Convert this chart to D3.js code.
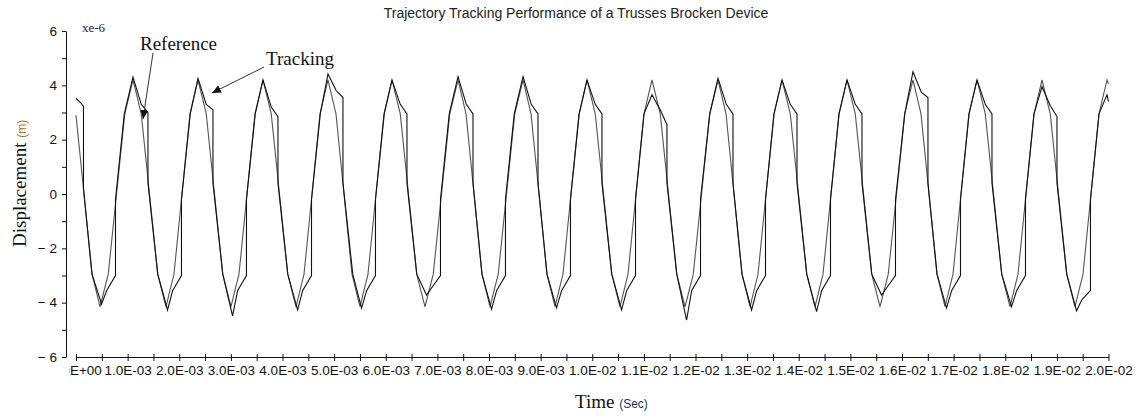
<!DOCTYPE html>
<html>
<head>
<meta charset="utf-8">
<script src="https://cdn.jsdelivr.net/npm/d3@7"></script>
<style>
  html, body { margin: 0; padding: 0; background: #fff; }
  svg { display: block; }
</style>
</head>
<body>
<div id="chart"></div>
<script>
// time in ms, displacement in 1e-6 m
const referenceData = [
  [0, 2.9], [0.155, 0], [0.31, -2.95], [0.465, -4.15],
  [0.625, -2.95], [0.785, 0], [0.945, 2.95], [1.104, 4.2],
  [1.264, 2.95], [1.424, 0], [1.583, -2.95], [1.743, -4.15],
  [1.898, -2.95], [2.053, 0], [2.208, 2.95], [2.363, 4.2],
  [2.523, 2.95], [2.683, 0], [2.842, -2.95], [3.002, -4.15],
  [3.157, -2.95], [3.312, 0], [3.467, 2.95], [3.622, 4.2],
  [3.782, 2.95], [3.942, 0], [4.102, -2.95], [4.262, -4.15],
  [4.417, -2.95], [4.572, 0], [4.726, 2.95], [4.881, 4.2],
  [5.036, 2.95], [5.191, 0], [5.346, -2.95], [5.501, -4.15],
  [5.656, -2.95], [5.811, 0], [5.966, 2.95], [6.121, 4.2],
  [6.281, 2.95], [6.441, 0], [6.600, -2.95], [6.760, -4.15],
  [6.920, -2.95], [7.080, 0], [7.240, 2.95], [7.400, 4.2],
  [7.555, 2.95], [7.710, 0], [7.864, -2.95], [8.019, -4.15],
  [8.179, -2.95], [8.339, 0], [8.499, 2.95], [8.659, 4.2],
  [8.814, 2.95], [8.969, 0], [9.123, -2.95], [9.278, -4.15],
  [9.433, -2.95], [9.588, 0], [9.743, 2.95], [9.898, 4.2],
  [10.058, 2.95], [10.218, 0], [10.378, -2.95], [10.538, -4.15],
  [10.693, -2.95], [10.848, 0], [11.002, 2.95], [11.157, 4.2],
  [11.317, 2.95], [11.477, 0], [11.637, -2.95], [11.797, -4.15],
  [11.957, -2.95], [12.117, 0], [12.276, 2.95], [12.436, 4.2],
  [12.591, 2.95], [12.746, 0], [12.901, -2.95], [13.056, -4.15],
  [13.211, -2.95], [13.366, 0], [13.521, 2.95], [13.676, 4.2],
  [13.836, 2.95], [13.996, 0], [14.155, -2.95], [14.315, -4.15],
  [14.470, -2.95], [14.625, 0], [14.780, 2.95], [14.935, 4.2],
  [15.095, 2.95], [15.255, 0], [15.414, -2.95], [15.574, -4.15],
  [15.734, -2.95], [15.894, 0], [16.053, 2.95], [16.213, 4.2],
  [16.368, 2.95], [16.523, 0], [16.678, -2.95], [16.833, -4.15],
  [16.988, -2.95], [17.143, 0], [17.298, 2.95], [17.453, 4.2],
  [17.613, 2.95], [17.773, 0], [17.932, -2.95], [18.092, -4.15],
  [18.247, -2.95], [18.402, 0], [18.557, 2.95], [18.712, 4.2],
  [18.872, 2.95], [19.032, 0], [19.191, -2.95], [19.351, -4.15],
  [19.506, -2.95], [19.661, 0], [19.816, 2.95], [19.971, 4.2],
  [20.0, 4.05]
];

const trackingData = [
  [0, 3.52], [0.10, 3.34], [0.145, 3.22], [0.145, 0.2], [0.31, -2.95],
  [0.495, -4.05], [0.595, -3.55], [0.765, -3.0], [0.765, -0.2], [0.935, 2.95],
  [1.104, 4.3], [1.264, 3.3], [1.394, 3.0], [1.394, 0.4], [1.584, -2.95],
  [1.773, -4.27], [1.873, -3.55], [2.043, -3.0], [2.043, -0.2], [2.213, 2.95],
  [2.363, 4.26], [2.523, 3.3], [2.653, 3.1], [2.653, 0.4], [2.843, -2.95],
  [3.032, -4.49], [3.132, -3.55], [3.302, -3.0], [3.302, -0.2], [3.472, 2.95],
  [3.622, 4.2], [3.782, 3.2], [3.912, 2.85], [3.912, 0.4], [4.102, -2.95],
  [4.292, -4.27], [4.392, -3.55], [4.562, -3.0], [4.562, -0.2], [4.732, 2.95],
  [4.881, 4.42], [5.041, 3.8], [5.171, 3.55], [5.171, 0.4], [5.361, -2.95],
  [5.531, -4.2], [5.631, -3.55], [5.801, -3.0], [5.801, -0.2], [5.971, 2.95],
  [6.121, 4.2], [6.281, 3.3], [6.411, 2.95], [6.411, 0.4], [6.601, -2.95],
  [6.790, -3.72], [6.890, -3.45], [7.060, -3.0], [7.060, -0.2], [7.230, 2.95],
  [7.400, 4.32], [7.560, 3.3], [7.690, 2.95], [7.690, 0.4], [7.864, -2.95],
  [8.049, -4.24], [8.149, -3.55], [8.319, -3.0], [8.319, -0.2], [8.489, 2.95],
  [8.659, 4.32], [8.819, 3.3], [8.949, 2.95], [8.949, 0.4], [9.123, -2.95],
  [9.308, -4.19], [9.408, -3.55], [9.578, -3.0], [9.578, -0.2], [9.748, 2.95],
  [9.898, 4.2], [10.058, 3.3], [10.188, 2.95], [10.188, 0.4], [10.378, -2.95],
  [10.568, -4.27], [10.668, -3.55], [10.838, -3.0], [10.838, -0.2], [11.002, 2.95],
  [11.157, 3.65], [11.317, 3.1], [11.447, 2.55], [11.447, 0.4], [11.637, -2.95],
  [11.827, -4.64], [11.927, -3.55], [12.097, -3.0], [12.097, -0.2], [12.276, 2.95],
  [12.436, 4.26], [12.596, 3.3], [12.726, 2.95], [12.726, 0.4], [12.901, -2.95],
  [13.086, -4.27], [13.186, -3.55], [13.356, -3.0], [13.356, -0.2], [13.521, 2.95],
  [13.676, 4.2], [13.836, 3.3], [13.966, 2.95], [13.966, 0.4], [14.155, -2.95],
  [14.345, -4.33], [14.445, -3.55], [14.615, -3.0], [14.615, -0.2], [14.780, 2.95],
  [14.935, 4.2], [15.095, 3.3], [15.225, 2.95], [15.225, 0.4], [15.414, -2.95],
  [15.604, -3.72], [15.704, -3.45], [15.874, -3.0], [15.874, -0.2], [16.053, 2.95],
  [16.213, 4.5], [16.373, 3.75], [16.503, 3.55], [16.503, 0.4], [16.678, -2.95],
  [16.863, -4.2], [16.963, -3.55], [17.133, -3.0], [17.133, -0.2], [17.298, 2.95],
  [17.453, 4.2], [17.613, 3.3], [17.743, 2.95], [17.743, 0.4], [17.932, -2.95],
  [18.122, -4.15], [18.222, -3.55], [18.392, -3.0], [18.392, -0.2], [18.557, 2.95],
  [18.712, 3.95], [18.872, 3.25], [19.002, 2.85], [19.002, 0.4], [19.191, -2.95],
  [19.381, -4.3], [19.481, -3.9], [19.651, -3.55], [19.651, -0.2], [19.816, 2.95],
  [19.971, 3.65], [20.0, 3.4]
];

const xTicks = d3.range(0, 20.5, 0.5);      // ms, labelled on whole ms
const yTicks = d3.range(-6, 7, 1);          // labelled on even values

const width = 1143;
const height = 419;

const svg = d3.select('#chart')
  .append('svg')
  .attr('width', width)
  .attr('height', height);

const x = d3.scaleLinear().domain([0, 20]).range([76, 1108.5]);
const y = d3.scaleLinear().domain([-6, 6]).range([357, 31]);

// 1.0E-03 style labels, time given in ms
function fmtSec(ms) {
  const s = ms / 1000;
  if (s === 0) return '0.0E+00';
  const e = Math.floor(Math.log10(s) + 1e-9);
  const m = (s / Math.pow(10, e)).toFixed(1);
  const sign = e < 0 ? '-' : '+';
  return m + 'E' + sign + String(Math.abs(e)).padStart(2, '0');
}

// x axis (the left end of the first label is hidden behind the y axis)
svg.append('clipPath')
  .attr('id', 'xclip')
  .append('rect')
  .attr('x', 69.5).attr('y', -20).attr('width', 1100).attr('height', 60);

const xAxis = svg.append('g')
  .attr('transform', `translate(0,${y(-6)})`)
  .attr('clip-path', 'url(#xclip)')
  .call(d3.axisBottom(x)
    .tickValues(xTicks)
    .tickSize(4)
    .tickSizeOuter(0)
    .tickPadding(4)
    .tickFormat(d => Number.isInteger(d) ? fmtSec(d) : ''));

xAxis.selectAll('.tick line').attr('y1', -3).attr('y2', 4);
xAxis.selectAll('path, line').attr('stroke', '#111');
xAxis.selectAll('text')
  .attr('fill', '#111')
  .style('font-family', 'Arial, "Liberation Sans", sans-serif')
  .style('font-size', '13.5px');

// y axis
const yAxis = svg.append('g')
  .attr('transform', 'translate(66,0)')
  .call(d3.axisLeft(y)
    .tickValues(yTicks)
    .tickSize(4)
    .tickSizeOuter(0)
    .tickPadding(5)
    .tickFormat(d => d % 2 !== 0 ? '' : (d < 0 ? '\u2212 ' + (-d) : String(d))));

yAxis.selectAll('path, line').attr('stroke', '#111');
yAxis.selectAll('text')
  .attr('fill', '#111')
  .style('font-family', 'Arial, "Liberation Sans", sans-serif')
  .style('font-size', '13.5px');

// series
const line = d3.line()
  .x(d => x(d[0]))
  .y(d => y(d[1]));

svg.append('path')
  .datum(referenceData)
  .attr('fill', 'none')
  .attr('stroke', '#555')
  .attr('stroke-width', 1.1)
  .attr('d', line);

svg.append('path')
  .datum(trackingData)
  .attr('fill', 'none')
  .attr('stroke', '#111')
  .attr('stroke-width', 1.1)
  .attr('d', line);

// texts
svg.append('text')
  .attr('x', 576)
  .attr('y', 18)
  .attr('text-anchor', 'middle')
  .attr('fill', '#222')
  .style('font-family', 'Arial, "Liberation Sans", sans-serif')
  .style('font-size', '14px')
  .text('Trajectory Tracking Performance of a Trusses Brocken Device');

svg.append('text')
  .attr('x', 82)
  .attr('y', 32)
  .attr('fill', '#223')
  .style('font-family', '"Liberation Serif", "Times New Roman", serif')
  .style('font-size', '13px')
  .text('xe-6');

const yLabel = svg.append('text')
  .attr('transform', 'translate(26,247) rotate(-90)')
  .attr('fill', '#111');
yLabel.append('tspan')
  .style('font-family', '"Liberation Serif", "Times New Roman", serif')
  .style('font-size', '19px')
  .text('Displacement ');
yLabel.append('tspan')
  .attr('fill', '#b0702a')
  .style('font-family', 'Arial, "Liberation Sans", sans-serif')
  .style('font-size', '12px')
  .text('(m)');

const xLabel = svg.append('text')
  .attr('x', 575)
  .attr('y', 408)
  .attr('fill', '#111');
xLabel.append('tspan')
  .style('font-family', '"Liberation Serif", "Times New Roman", serif')
  .style('font-size', '19px')
  .text('Time ');
xLabel.append('tspan')
  .attr('fill', '#223366')
  .style('font-family', 'Arial, "Liberation Sans", sans-serif')
  .style('font-size', '12px')
  .text('(Sec)');

// annotation arrows
svg.append('defs')
  .append('marker')
  .attr('id', 'arrowhead')
  .attr('viewBox', '0 -5 10 10')
  .attr('refX', 10)
  .attr('refY', 0)
  .attr('markerWidth', 9)
  .attr('markerHeight', 9)
  .attr('markerUnits', 'userSpaceOnUse')
  .attr('orient', 'auto')
  .append('path')
  .attr('d', 'M0,-4.5L10,0L0,4.5Z')
  .attr('fill', '#111');

const notes = [
  { text: 'Reference', tx: 140, ty: 50, from: [153, 53], to: [143, 119] },
  { text: 'Tracking',  tx: 266, ty: 65, from: [264, 67], to: [212, 93] }
];

notes.forEach(n => {
  svg.append('text')
    .attr('x', n.tx)
    .attr('y', n.ty)
    .attr('fill', '#111')
    .style('font-family', '"Liberation Serif", "Times New Roman", serif')
    .style('font-size', '19px')
    .text(n.text);

  svg.append('line')
    .attr('x1', n.from[0]).attr('y1', n.from[1])
    .attr('x2', n.to[0]).attr('y2', n.to[1])
    .attr('stroke', '#333')
    .attr('stroke-width', 1)
    .attr('marker-end', 'url(#arrowhead)');
});
</script>
</body>
</html>
